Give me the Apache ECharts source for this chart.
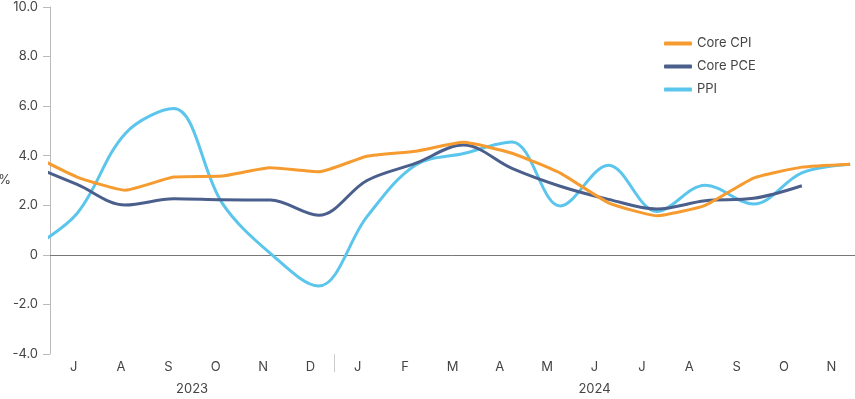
<!DOCTYPE html>
<html>
<head>
<meta charset="utf-8">
<script src="https://cdn.jsdelivr.net/npm/echarts@6/dist/echarts.min.js"></script>
<style>
  html, body { margin: 0; padding: 0; background: #fff; }
  #chart { width: 855px; height: 399px; }
</style>
</head>
<body>
<div id="chart"></div>
<script>
// months Jul 2023 .. Nov 2024 (axis labels)
var months = ['J', 'A', 'S', 'O', 'N', 'D', 'J', 'F', 'M', 'A', 'M', 'J', 'J', 'A', 'S', 'O', 'N'];
// data index: 0 = Jun 2023 ... 17 = Nov 2024
var coreCpi = [4.1, 3.14, 2.61, 3.14, 3.18, 3.51, 3.35, 3.98, 4.18, 4.54, 4.1, 3.3, 2.1, 1.58, 2.0, 3.1, 3.54, 3.66];
var corePce = [3.65, 2.84, 2.01, 2.26, 2.22, 2.21, 1.6, 3.0, 3.69, 4.43, 3.49, 2.77, 2.24, 1.85, 2.18, 2.28, 2.79];
var ppi = [0.2, 1.67, 4.9, 5.9, 2.1, 0.06, -1.26, 1.54, 3.62, 4.09, 4.55, 1.97, 3.62, 1.75, 2.81, 2.05, 3.31, 3.66];
var yearLabels = { 3: '2023', 11.5: '2024' };

function pairs(arr) {
    return arr.map(function (v, i) { return [i, v]; });
}

var myChart = echarts.init(document.getElementById('chart'));
var font = 'Inter';
var option = {
    animation: false,
    textStyle: { fontFamily: font },
    grid: { left: 50, right: 0, top: 7, bottom: 45, containLabel: false, outerBoundsMode: 'none' },
    legend: {
        orient: 'vertical',
        left: 659,
        top: 32,
        icon: 'roundRect',
        itemWidth: 28,
        itemHeight: 4,
        itemGap: 10,
        textStyle: { fontFamily: font, fontSize: 13, color: '#444' },
        data: ['Core CPI', 'Core PCE', 'PPI']
    },
    xAxis: [
        {
            type: 'category',
            data: months,
            boundaryGap: true,
            axisLine: { lineStyle: { color: '#aaa' } },
            axisTick: { length: 7, lineStyle: { color: '#aaa' } },
            axisLabel: { color: '#444', fontSize: 13, margin: 7, fontFamily: font }
        },
        {
            type: 'value',
            min: 0.44,
            max: 17.1,
            show: false
        },
        {
            // year row under the months
            type: 'value',
            min: 0,
            max: 17,
            position: 'bottom',
            axisLine: { show: false },
            splitLine: { show: false },
            axisTick: { show: true, customValues: [6], length: 18, lineStyle: { color: '#ccc' } },
            axisLabel: {
                customValues: [3, 11.5],
                color: '#444',
                fontSize: 13,
                margin: 29,
                fontFamily: font,
                formatter: function (v) { return yearLabels[v] || ''; }
            }
        }
    ],
    yAxis: {
        type: 'value',
        min: -4,
        max: 10,
        interval: 2,
        name: '%',
        nameLocation: 'middle',
        nameRotate: 0,
        nameGap: 39,
        nameMoveOverlap: false,
        nameTextStyle: { color: '#444', fontSize: 13, fontFamily: font },
        axisLine: { show: true, lineStyle: { color: '#bbb' } },
        axisTick: { show: true, length: 7, lineStyle: { color: '#bbb' } },
        splitLine: { show: false },
        axisLabel: {
            color: '#444',
            fontSize: 13,
            margin: 12,
            fontFamily: font,
            formatter: function (v) { return v === 0 ? '0' : v.toFixed(1); }
        }
    },
    series: [
        {
            name: 'PPI',
            type: 'line',
            xAxisIndex: 1,
            data: pairs(ppi),
            smooth: 0.35,
            showSymbol: false,
            color: '#5BC5EC',
            lineStyle: { width: 3, color: '#5BC5EC' },
            z: 2
        },
        {
            name: 'Core PCE',
            type: 'line',
            xAxisIndex: 1,
            data: pairs(corePce),
            smooth: 0.35,
            showSymbol: false,
            color: '#4A5F8C',
            lineStyle: { width: 3, color: '#4A5F8C' },
            z: 3
        },
        {
            name: 'Core CPI',
            type: 'line',
            xAxisIndex: 1,
            data: pairs(coreCpi),
            smooth: 0.15,
            showSymbol: false,
            color: '#F59B2F',
            lineStyle: { width: 3, color: '#F59B2F' },
            z: 4,
            markLine: {
                silent: true,
                symbol: 'none',
                label: { show: false },
                lineStyle: { color: '#777', type: 'solid', width: 1 },
                data: [{ yAxis: 0 }],
                z: 1
            }
        }
    ]
};
myChart.setOption(option);
</script>
</body>
</html>
